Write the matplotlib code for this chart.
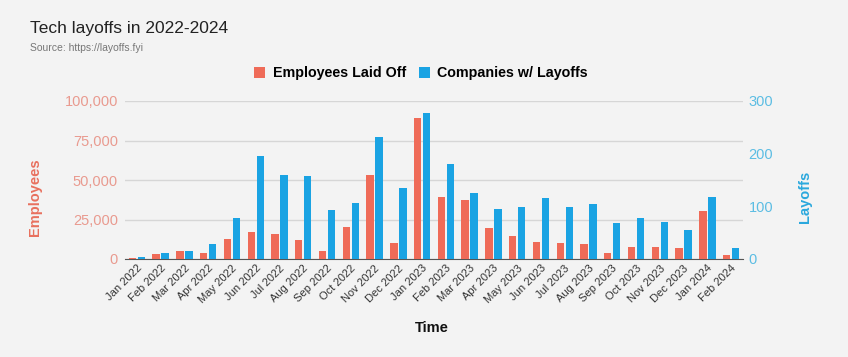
import matplotlib
matplotlib.use("Agg")
import matplotlib.pyplot as plt
import numpy as np
from matplotlib.patches import Patch

plt.rcParams['font.family'] = ['Liberation Sans', 'DejaVu Sans']

months = ["Jan 2022", "Feb 2022", "Mar 2022", "Apr 2022", "May 2022", "Jun 2022",
          "Jul 2022", "Aug 2022", "Sep 2022", "Oct 2022", "Nov 2022", "Dec 2022",
          "Jan 2023", "Feb 2023", "Mar 2023", "Apr 2023", "May 2023", "Jun 2023",
          "Jul 2023", "Aug 2023", "Sep 2023", "Oct 2023", "Nov 2023", "Dec 2023",
          "Jan 2024", "Feb 2024"]
employees = [500, 3000, 5000, 3600, 12500, 17300, 15800, 12000, 5000, 20400, 53000, 10000,
             89400, 39400, 37300, 19400, 14600, 10600, 9900, 9500, 4000, 7600, 7600, 7000,
             30600, 2500]
companies = [4, 11, 16, 28, 78, 196, 159, 157, 93, 107, 232, 134,
             277, 180, 126, 95, 98, 116, 98, 104, 68, 78, 71, 56,
             118, 20]
left_ticks = [0, 25000, 50000, 75000, 100000]
right_ticks = [0, 100, 200, 300]

RED = "#ef6b58"
BLUE = "#1aa3e3"
BG = "#f3f3f3"

fig = plt.figure(figsize=(8.48, 3.57), dpi=100, facecolor=BG)
ax = fig.add_axes([125/848, 1-259/357, 618/848, 158/357])
ax.set_facecolor(BG)
ax2 = ax.twinx()

x = np.arange(len(months))
w = 0.31
off = 0.19
ax.bar(x - off, employees, width=w, color=RED, zorder=3)
ax2.bar(x + off, companies, width=w, color=BLUE, zorder=3)

ax.set_xlim(-0.5, len(months) - 0.5)
ax.set_ylim(0, 100000)
ax2.set_ylim(0, 300)

ax.set_yticks(left_ticks)
ax.set_yticklabels([f"{v:,}" for v in left_ticks], color="#e99a8f", fontsize=10.5)
ax2.set_yticks(right_ticks)
ax2.set_yticklabels([str(v) for v in right_ticks], color="#5cbde3", fontsize=10.5)

ax.grid(axis='y', color='#d6d6d6', linewidth=1, zorder=0)
ax.set_axisbelow(True)
for a in (ax, ax2):
    for s in ['top', 'right', 'left']:
        a.spines[s].set_visible(False)
    a.spines['bottom'].set_color('#555555')
ax2.spines['bottom'].set_visible(False)
ax.tick_params(axis='y', length=0, pad=5)
ax2.tick_params(axis='y', length=0, pad=4)
ax.tick_params(axis='x', length=0, pad=3)

ax.set_xticks(x)
ax.set_xticklabels(months, rotation=45, ha='right', rotation_mode='anchor',
                   fontsize=8, color='#333333')

fig.text(30/848, 1-28/357, "Tech layoffs in 2022-2024", fontsize=12.5, color='#222222',
         va='center', ha='left')
fig.text(30/848, 1-48/357, "Source: https://layoffs.fyi", fontsize=7.5, color='#777777',
         va='center', ha='left')

fig.text(35/848, 1-197/357, "Employees", rotation=90, fontsize=10.5, fontweight='bold',
         color='#e8705e', va='center', ha='center')
fig.text(805/848, 1-197/357, "Layoffs", rotation=90, fontsize=10.5, fontweight='bold',
         color='#2aa8dd', va='center', ha='center')
fig.text(432/848, 1-328/357, "Time", fontsize=10.5, fontweight='bold', color='#111111',
         va='center', ha='center')

handles = [Patch(facecolor=RED, label="Employees Laid Off"),
           Patch(facecolor=BLUE, label="Companies w/ Layoffs")]
leg = fig.legend(handles=handles, loc='center', bbox_to_anchor=(421/848, 1-73/357), ncol=2,
                 frameon=False, handlelength=0.8, handleheight=0.8, handletextpad=0.5,
                 columnspacing=0.9, prop={'weight': 'bold', 'size': 10.3})

fig.savefig("out.png", dpi=100, facecolor=BG)
